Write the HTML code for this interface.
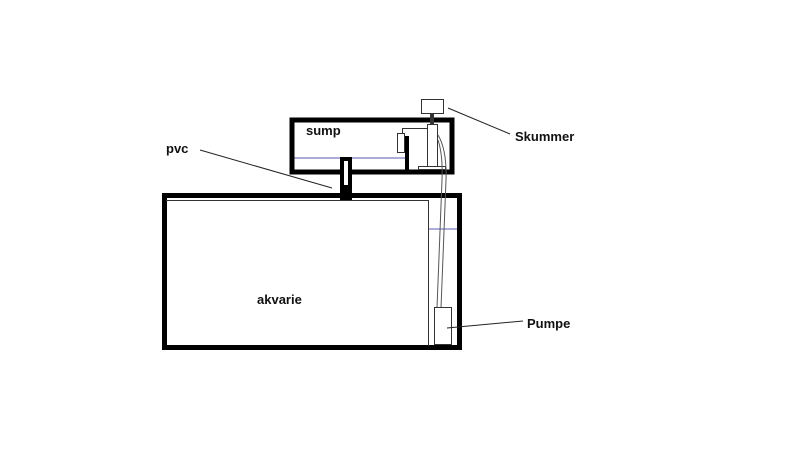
<!DOCTYPE html>
<html><head><style>body{margin:0;background:#fff}svg{display:block}text{font-family:"Liberation Sans",sans-serif;font-weight:bold;font-size:13px;fill:#111}</style></head><body>
<svg width="800" height="449" viewBox="0 0 800 449">
<rect width="800" height="449" fill="#fff"/>
<!-- water lines -->
<line x1="292" y1="158" x2="405" y2="158" stroke="#5a5ab0" stroke-width="1"/>
<line x1="428" y1="229" x2="459" y2="229" stroke="#5a5ab0" stroke-width="1"/>
<!-- sump -->
<rect x="292" y="120" width="160" height="52" fill="none" stroke="#000" stroke-width="5"/>
<!-- aquarium -->
<rect x="164.5" y="195.5" width="295" height="152" fill="none" stroke="#000" stroke-width="5"/>
<polyline points="166,200.5 428.5,200.5 428.5,346" fill="none" stroke="#333" stroke-width="1"/>
<!-- pvc -->
<rect x="340" y="157" width="12" height="43" fill="#000"/>
<rect x="344" y="161" width="4" height="24" fill="#fff"/>
<!-- skimmer -->
<rect x="421.5" y="99.5" width="22" height="14" fill="#fff" stroke="#333" stroke-width="1"/>
<rect x="430" y="113" width="4" height="11" fill="#333"/>
<rect x="427.5" y="124.5" width="10" height="43" fill="#fff" stroke="#333" stroke-width="1"/>
<rect x="418.5" y="166.5" width="27" height="3" fill="#fff" stroke="#333" stroke-width="1"/>
<polyline points="427,128.5 402.5,128.5 402.5,133" fill="none" stroke="#333" stroke-width="1"/>
<rect x="397.5" y="133.5" width="7" height="19" fill="#fff" stroke="#333" stroke-width="1"/>
<rect x="405" y="136" width="4" height="34" fill="#000"/>
<!-- hoses -->
<path d="M438,135 Q447,150 446,180 L441,308" fill="none" stroke="#555" stroke-width="1"/>
<path d="M438,140 Q443,155 442,180 L437,308" fill="none" stroke="#555" stroke-width="1"/>
<!-- pump -->
<rect x="434.5" y="307.5" width="17" height="37" fill="#fff" stroke="#333" stroke-width="1"/>
<!-- leaders -->
<line x1="200" y1="150" x2="332" y2="188" stroke="#222" stroke-width="1"/>
<line x1="448" y1="108" x2="510" y2="134" stroke="#222" stroke-width="1"/>
<line x1="447" y1="328" x2="523" y2="321" stroke="#222" stroke-width="1"/>
<!-- labels -->
<text x="306" y="135">sump</text>
<text x="166" y="153">pvc</text>
<text x="515" y="141">Skummer</text>
<text x="257" y="304">akvarie</text>
<text x="527" y="328">Pumpe</text>
</svg>
</body></html>
